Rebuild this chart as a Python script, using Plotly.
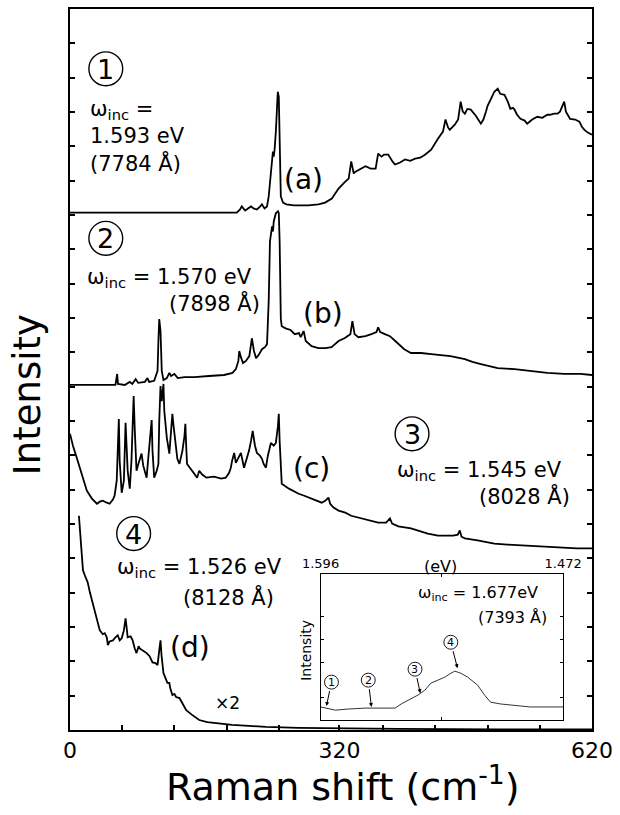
import plotly.graph_objects as go

# ---------------- data (Raman shift in cm^-1, intensity in arbitrary offset units) -------------
# (a) w_inc = 1.593 eV
a_x = [0, 95, 154, 198, 202, 204, 208, 211, 215, 218, 222, 226, 228, 231, 234, 236, 239, 241, 242, 243,
       244.5, 245.6, 246.8, 248, 249.2, 250.4, 253, 257, 266, 272, 283, 295, 303, 311, 319, 326, 331, 334,
       337, 339, 345, 351, 357, 363, 366, 370, 373, 378, 383, 386, 392, 398, 404, 410, 416, 422, 429, 433,
       437, 443, 446, 449, 451, 457, 461, 464, 466.5, 469, 472, 476, 482, 488, 491, 494, 496, 500, 504, 508,
       511, 516, 520, 523, 526, 528, 531, 535, 540, 543, 549, 555, 561, 567, 570, 575, 579, 582, 585, 587,
       589, 594, 600, 605, 608, 611, 615, 620]
a_y = [15.07, 15.07, 15.08, 15.07, 15.16, 15.25, 15.13, 15.19, 15.25, 15.19, 15.16, 15.25, 15.31, 15.19,
       15.25, 15.54, 16.26, 16.85, 16.70, 16.90, 17.43, 18.30, 18.59, 18.44, 16.85, 15.54, 15.36, 15.31,
       15.28, 15.28, 15.28, 15.31, 15.36, 15.48, 15.77, 15.95, 16.06, 16.56, 16.21, 16.26, 16.33, 16.42,
       16.35, 16.35, 16.79, 16.70, 16.76, 16.76, 16.56, 16.47, 16.53, 16.62, 16.58, 16.64, 16.67, 16.76,
       16.90, 17.08, 17.22, 17.43, 17.78, 17.55, 17.48, 17.63, 17.78, 18.30, 18.01, 17.95, 18.09, 18.07,
       17.89, 17.66, 17.78, 18.01, 18.18, 18.38, 18.59, 18.68, 18.53, 18.50, 18.30, 18.09, 18.12, 18.07,
       17.92, 17.80, 17.75, 17.66, 17.78, 17.86, 17.83, 17.92, 17.92, 17.95, 17.95, 18.01, 18.18, 18.30,
       18.01, 17.80, 17.78, 17.72, 17.57, 17.48, 17.40, 17.34]

# (b) w_inc = 1.570 eV
b_x = [0, 47, 54, 56, 57, 65, 71, 74, 78, 81, 89, 92, 94, 100, 104, 105, 106, 107.5, 109, 111, 115, 118,
       120, 124, 128, 136, 148, 165, 183, 193, 197, 200, 201, 203, 205.5, 209, 213, 216, 218.5, 221, 224,
       228, 231.5, 234, 236, 237.5, 240, 241, 242, 244.5, 247, 248, 249, 250.4, 251.5, 256, 262, 267, 272,
       274, 277.5, 280, 287, 295, 303.5, 310.6, 319, 326, 333, 335.4, 338, 342.5, 351, 358, 364, 366,
       368.5, 374, 380, 385, 390, 397, 405, 417, 429, 440.5, 452, 469, 478, 488, 508, 528, 547, 567, 587,
       606, 620]
b_y = [10.05, 10.05, 10.05, 10.37, 10.08, 10.05, 10.14, 10.08, 10.22, 10.11, 10.14, 10.25, 10.14, 10.17,
       10.46, 11.33, 11.97, 11.62, 10.46, 10.19, 10.25, 10.40, 10.31, 10.37, 10.25, 10.28, 10.28, 10.31,
       10.34, 10.40, 10.51, 10.75, 11.04, 10.86, 10.69, 10.75, 10.89, 11.41, 11.04, 10.83, 10.92, 11.09,
       11.15, 11.24, 12.49, 14.23, 14.67, 14.52, 14.81, 15.05, 15.11, 15.05, 14.23, 11.97, 11.76, 11.70,
       11.65, 11.53, 11.56, 11.44, 11.62, 11.33, 11.18, 11.12, 11.12, 11.15, 11.33, 11.41, 11.53, 11.91,
       11.53, 11.44, 11.47, 11.53, 11.59, 11.73, 11.59, 11.53, 11.47, 11.36, 11.24, 11.09, 10.98, 10.98,
       10.95, 10.92, 10.89, 10.80, 10.72, 10.66, 10.54, 10.51, 10.46, 10.40, 10.37, 10.37, 10.34]

# (c) w_inc = 1.545 eV
c_x = [0, 3.5, 8, 14, 20, 26, 32, 35.4, 39, 43.7, 47, 51, 53, 55.5, 58, 59, 61.4, 64, 66, 68.5, 71, 73,
       75.6, 77, 79, 81.5, 85, 87, 91, 93, 95.7, 97, 98, 100, 103, 105, 106, 107.5, 109, 111, 112, 115,
       118, 120.5, 121.6, 123, 125, 127.5, 130, 133.5, 136, 137, 138, 139, 145, 149, 151, 153.5, 157, 162,
       171, 179.5, 185, 189, 191, 192.5, 195, 197, 198.4, 201, 203, 206.7, 210, 212.6, 215, 217, 219.7,
       222, 225.6, 228, 230, 232.7, 235, 238.6, 242, 244.5, 247, 248, 249, 250.4, 251.5, 260, 271.6,
       277.5, 287, 293, 299, 303.5, 307, 309, 313, 319, 327, 334, 342.5, 354, 366, 375.5, 380, 382.6, 390,
       405, 413, 425, 437, 445, 455, 460.6, 463, 465, 469, 484, 504, 519.6, 543, 567, 582, 602, 620]
c_y = [8.63, 8.28, 7.93, 7.41, 6.97, 6.74, 6.59, 6.65, 6.68, 6.62, 6.59, 6.71, 6.83, 7.26, 9.06, 7.84,
       6.91, 7.26, 8.95, 7.55, 7.03, 7.84, 9.73, 8.71, 7.55, 7.78, 8.05, 7.70, 7.35, 7.93, 8.71, 9.03,
       8.13, 7.35, 7.55, 7.75, 9.00, 10.02, 9.58, 10.08, 9.29, 8.51, 8.05, 8.71, 9.21, 8.86, 8.34, 7.90,
       7.75, 8.13, 8.57, 8.92, 8.28, 7.75, 7.55, 7.41, 7.35, 7.55, 7.44, 7.35, 7.38, 7.32, 7.35, 7.49,
       7.64, 7.84, 8.07, 7.78, 7.84, 7.99, 8.07, 7.64, 7.90, 8.13, 8.42, 8.71, 8.28, 8.07, 7.99, 7.90,
       7.75, 7.64, 7.99, 8.36, 8.28, 8.36, 8.86, 9.21, 8.42, 7.55, 7.17, 7.03, 6.88, 6.83, 6.74, 6.68,
       6.62, 6.68, 6.77, 6.59, 6.48, 6.39, 6.33, 6.24, 6.19, 6.10, 6.04, 6.04, 6.16, 6.01, 5.93, 5.87,
       5.81, 5.72, 5.66, 5.66, 5.66, 5.69, 5.81, 5.63, 5.58, 5.52, 5.43, 5.40, 5.37, 5.34, 5.32, 5.29, 5.29]

# (d) w_inc = 1.526 eV (x2)
d_x = [10.6, 11.8, 14, 15.4, 17.7, 21, 23.6, 26, 29.5, 32, 35.4, 39, 41.3, 43.7, 45, 47, 51, 54, 56.7,
       59, 61.4, 64, 66, 67, 68.5, 72, 74.4, 76.8, 79, 81.5, 82.7, 86, 91, 94.5, 98, 101.6, 104, 106,
       107.5, 108.7, 111, 113.4, 115.7, 118, 119, 121.6, 124, 126, 130, 133.5, 138, 145, 153.5, 163,
       173.6, 183, 192.5, 212.6, 232.7, 271.6, 330.7, 389.7, 507.8, 620]
d_y = [6.24, 5.81, 5.02, 4.65, 4.50, 4.30, 4.01, 3.78, 3.43, 3.19, 2.90, 2.79, 2.82, 2.70, 2.47, 2.58,
       2.61, 2.70, 2.76, 2.61, 2.67, 2.90, 3.25, 3.05, 2.70, 2.73, 2.61, 2.38, 2.24, 2.44, 2.38, 2.32,
       2.24, 2.15, 1.97, 1.95, 1.89, 2.32, 2.61, 2.18, 1.66, 1.51, 1.37, 1.37, 1.22, 1.02, 1.05, 0.96,
       0.93, 0.78, 0.58, 0.44, 0.29, 0.23, 0.20, 0.17, 0.15, 0.12, 0.09, 0.06, 0.04, 0.03, 0.02, 0.02]

# inset: excitation profile at w_inc = 1.677 eV, scattered photon energy (eV) vs intensity
inset_eV = [1.596, 1.5884, 1.5818, 1.5731, 1.5650, 1.5579, 1.5548, 1.5513, 1.5462, 1.5427, 1.5396,
            1.5360, 1.5325, 1.5294, 1.5274, 1.5259, 1.5243, 1.5208, 1.5157, 1.5122, 1.5091, 1.5040,
            1.4969, 1.4888, 1.4802, 1.4720]
inset_I = [0.57, 0.43, 0.48, 0.52, 0.52, 0.52, 0.70, 0.87, 1.09, 1.30, 1.61, 1.74, 1.87, 2.04, 2.13,
           2.09, 2.04, 1.87, 1.52, 1.09, 0.78, 0.70, 0.65, 0.57, 0.57, 0.57]
laser_eV = [1.593, 1.570, 1.545, 1.526]
laser_I = [0.61, 0.57, 1.17, 2.26]
laser_tag = ["1", "2", "3", "4"]

x_tickvals = [0, 320, 620]
x_ticktext = ["0", "320", "620"]
x_minor = [62, 124, 186, 248, 372, 434, 496, 558]
inset_tickvals = [1.596, 1.472]
inset_ticktext = ["1.596", "1.472"]
inset_minor = [1.534]

# ---------------- figure -------------------------------------------------------------
W, H = 620, 815
ML, MR, MT, MB = 70, 25, 7, 85
PW, PH = W - ML - MR, H - MT - MB
FONT = "DejaVu Sans, sans-serif"


def P(px, py):
    return (px - ML) / PW, (H - MB - py) / PH


fig = go.Figure()
for xs, ys in [(a_x, a_y), (b_x, b_y), (c_x, c_y), (d_x, d_y)]:
    fig.add_trace(go.Scatter(x=xs, y=ys, mode="lines", line=dict(color="black", width=1.8),
                             showlegend=False, hoverinfo="skip", xaxis="x", yaxis="y"))

fig.add_trace(go.Scatter(x=inset_eV, y=inset_I, mode="lines", line=dict(color="#333", width=1),
                         showlegend=False, hoverinfo="skip", xaxis="x2", yaxis="y2"))

ann = []
shapes = []


def add(text, px, py, size, xanchor="center", yanchor="middle", angle=0, align="left"):
    x, y = P(px, py)
    ann.append(dict(text=text, x=x, y=y, xref="paper", yref="paper", showarrow=False,
                    xanchor=xanchor, yanchor=yanchor, textangle=angle, align=align,
                    font=dict(family=FONT, size=size, color="black")))


def ring(px, py, diam, lw):
    x0, y0 = P(px - diam / 2, py + diam / 2)
    x1, y1 = P(px + diam / 2, py - diam / 2)
    shapes.append(dict(type="circle", xref="paper", yref="paper", x0=x0, y0=y0, x1=x1, y1=y1,
                       line=dict(color="black", width=lw), fillcolor="rgba(0,0,0,0)"))


def circled(digit, px, py, diam, size, lw):
    ring(px, py, diam, lw)
    add(digit, px, py + 0.5, size)


circled("1", 106, 67, 34, 27, 1.4)
add("ω<sub>inc</sub> =<br>1.593 eV<br>(7784 Å)", 88, 135, 21, xanchor="left")
add("(a)", 305, 178, 28)
circled("2", 106, 237, 34, 27, 1.4)
add("ω<sub>inc</sub> = 1.570 eV", 85, 277, 21, xanchor="left")
add("(7898 Å)", 263, 302, 21, xanchor="right")
add("(b)", 324, 312, 28)
add("(c)", 313, 468, 28)
circled("3", 414, 433, 34, 27, 1.4)
add("ω<sub>inc</sub> = 1.545 eV", 397, 470, 21, xanchor="left")
add("(8028 Å)", 575, 495, 21, xanchor="right")
circled("4", 134, 533, 34, 27, 1.4)
add("ω<sub>inc</sub> = 1.526 eV", 115, 568, 21, xanchor="left")
add("(8128 Å)", 277, 597, 21, xanchor="right")
add("(d)", 191, 647, 28)
add("×2", 228, 703, 17)
add("Intensity", 28, 394, 37, angle=-90)
add("Raman shift (cm<sup>-1</sup>)", 345, 784, 38)
# inset texts
add("(eV)", 443, 566, 16)
add("ω<sub>inc</sub> = 1.677eV", 543, 593, 16, xanchor="right")
add("(7393 Å)", 552, 617, 16, xanchor="right")
add("Intensity", 308, 650, 14, angle=-90)

# inset arrows: circled markers above the curve, arrows pointing to laser energies
tail_px = [(333, 682), (370, 680), (417, 669), (453, 642)]
x2dom = (P(322, 0)[0], P(566, 0)[0])
y2dom = (P(0, 720)[1], P(0, 574)[1])
for e, i, t, (tx, ty) in zip(laser_eV, laser_I, laser_tag, tail_px):
    # pixel location of the arrow head (derived from inset axes mapping)
    hx = ML + PW * (x2dom[0] + (1.596 - e) / (1.596 - 1.472) * (x2dom[1] - x2dom[0]))
    hy = H - MB - PH * (y2dom[0] + i / 6.35 * (y2dom[1] - y2dom[0]))
    ann.append(dict(text=t, x=e, y=i, xref="x2", yref="y2", showarrow=True,
                    ax=tx - hx, ay=ty - hy, arrowhead=2, arrowsize=0.8, arrowwidth=1,
                    arrowcolor="black", standoff=0, startstandoff=1,
                    font=dict(family=FONT, size=11, color="black")))
    ring(tx, ty, 14, 0.9)

axis_common = dict(showline=True, linecolor="black", showgrid=False, zeroline=False,
                   ticks="inside", tickcolor="black")

fig.update_layout(
    width=W, height=H, margin=dict(l=ML, r=MR, t=MT, b=MB),
    paper_bgcolor="white", plot_bgcolor="white",
    xaxis=dict(axis_common, domain=[0, 1], range=[0, 620], linewidth=2, mirror=True,
               tickvals=x_tickvals, ticktext=x_ticktext, ticklen=5, tickwidth=1.5,
               tickfont=dict(family=FONT, size=22, color="black"), ticklabelstandoff=0,
               minor=dict(tickmode="array", tickvals=x_minor, ticks="inside", ticklen=5,
                          tickwidth=1.5, tickcolor="black", showgrid=False)),
    xaxis3=dict(overlaying="x", anchor="y", side="top", range=[0, 620], showline=False,
                showgrid=False, zeroline=False, ticks="inside", tickcolor="black", ticklen=5,
                tickwidth=1.5, tickvals=sorted(x_tickvals + x_minor), showticklabels=False),
    yaxis=dict(axis_common, domain=[0, 1], range=[0, 21], linewidth=2, mirror="ticks",
               dtick=1, tick0=0, ticklen=5, tickwidth=1.5, showticklabels=False),
    xaxis2=dict(axis_common, domain=list(x2dom), anchor="y2",
                range=[1.596, 1.472], side="top", linewidth=1, mirror="ticks",
                tickvals=inset_tickvals, ticktext=inset_ticktext, ticklen=3, tickwidth=1,
                tickfont=dict(family=FONT, size=13, color="black"),
                minor=dict(tickmode="array", tickvals=inset_minor, ticks="inside", ticklen=3,
                           tickwidth=1, tickcolor="black", showgrid=False)),
    yaxis2=dict(axis_common, domain=list(y2dom), anchor="x2", range=[0, 6.35],
                linewidth=1, mirror="ticks", tickvals=[1, 2.5, 3.5, 4.5], ticklen=3, tickwidth=1,
                showticklabels=False),
    annotations=ann,
    shapes=shapes,
)

fig.write_html("out.html")
